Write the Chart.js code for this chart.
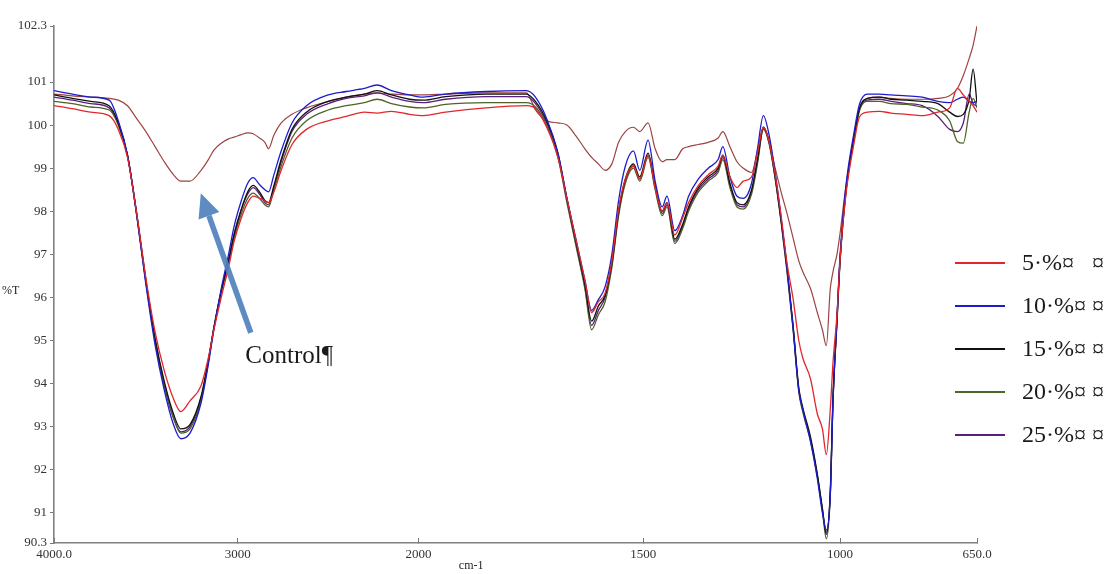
<!DOCTYPE html>
<html>
<head>
<meta charset="utf-8">
<title>FTIR %T spectra</title>
<script src="https://cdn.jsdelivr.net/npm/chart.js@4.4.1/dist/chart.umd.min.js"></script>
<style>
  html, body { margin: 0; padding: 0; background: #fff; }
  #chart { display: block; }
</style>
</head>
<body>
<canvas id="chart" width="1120" height="574"></canvas>
<script>
// wavenumbers (cm-1), same grid for every spectrum
const WAVENUMBERS = [
  4000, 3900, 3800, 3700, 3650, 3600, 3550, 3500, 3450, 3400,
  3350, 3310, 3260, 3200, 3160, 3130, 3090, 3050, 3020, 2980,
  2945, 2915, 2880, 2850, 2830, 2800, 2760, 2700, 2620, 2500,
  2400, 2300, 2230, 2150, 2050, 1990, 1940, 1850, 1760, 1740,
  1715, 1690, 1670, 1650, 1630, 1615, 1600, 1585, 1570, 1555,
  1540, 1522, 1508, 1488, 1470, 1452, 1440, 1420, 1400, 1385,
  1360, 1335, 1310, 1298, 1280, 1262, 1246, 1225, 1210, 1195,
  1180, 1165, 1150, 1135, 1120, 1105, 1095, 1075, 1058, 1045,
  1035, 1025, 1018, 1008, 1000, 985, 965, 950, 930, 900,
  870, 830, 790, 750, 720, 700, 685, 670, 660, 650
];

const T_5 = [
  100.45, 100.38, 100.30, 100.22, 99.90, 99.25, 97.95, 96.45, 95.20, 94.30,
  93.65, 93.35, 93.60, 93.95, 94.60, 95.25, 96.00, 96.70, 97.30, 97.85,
  98.20, 98.35, 98.30, 98.25, 98.20, 98.45, 98.95, 99.55, 99.90, 100.10,
  100.20, 100.30, 100.28, 100.32, 100.25, 100.22, 100.30, 100.40, 100.45, 100.38,
  99.95, 99.25, 98.30, 97.35, 96.40, 95.65, 95.90, 96.10, 96.85, 98.05,
  98.75, 99.05, 98.75, 99.30, 98.55, 98.00, 98.20, 97.45, 97.85, 98.20,
  98.60, 98.85, 99.05, 99.30, 98.80, 98.55, 98.70, 98.80, 99.35, 99.95,
  99.60, 98.85, 97.90, 96.80, 96.00, 95.00, 94.60, 94.10, 93.30, 92.95,
  92.35, 93.40, 94.50, 95.60, 96.90, 98.40, 99.55, 100.20, 100.30, 100.32,
  100.28, 100.25, 100.22, 100.30, 100.40, 100.85, 100.70, 100.55, 100.45, 100.30
];

const T_10 = [
  100.80, 100.72, 100.65, 100.58, 100.10, 99.30, 97.90, 96.30, 94.90, 93.85,
  93.05, 92.72, 92.85, 93.55, 94.45, 95.25, 96.20, 97.00, 97.65, 98.25,
  98.65, 98.78, 98.62, 98.50, 98.45, 98.85, 99.40, 100.05, 100.45, 100.70,
  100.78, 100.85, 100.93, 100.80, 100.70, 100.65, 100.72, 100.78, 100.80, 100.65,
  100.15, 99.35, 98.30, 97.35, 96.40, 95.70, 95.95, 96.25, 97.00, 98.25,
  99.05, 99.40, 98.95, 99.65, 98.70, 98.10, 98.35, 97.55, 97.90, 98.35,
  98.75, 99.00, 99.20, 99.50, 98.80, 98.35, 98.30, 98.65, 99.45, 100.22,
  99.75, 98.90, 97.85, 96.70, 95.35, 93.85, 93.40, 92.65, 91.80, 91.00,
  90.60, 91.40, 93.60, 95.50, 97.00, 98.60, 99.80, 100.50, 100.72, 100.72,
  100.70, 100.68, 100.65, 100.55, 100.52, 100.60, 100.65, 100.55, 100.52, 100.55
];

const T_15 = [
  100.70, 100.62, 100.55, 100.45, 100.05, 99.30, 97.95, 96.40, 95.05, 94.05,
  93.30, 92.95, 93.05, 93.70, 94.55, 95.30, 96.15, 96.85, 97.45, 98.05,
  98.45, 98.60, 98.45, 98.25, 98.20, 98.60, 99.20, 99.90, 100.30, 100.55,
  100.65, 100.72, 100.80, 100.70, 100.60, 100.58, 100.66, 100.72, 100.72, 100.55,
  100.10, 99.35, 98.30, 97.30, 96.30, 95.45, 95.80, 96.05, 96.80, 98.00,
  98.75, 99.10, 98.80, 99.35, 98.60, 98.00, 98.20, 97.35, 97.70, 98.10,
  98.55, 98.80, 99.00, 99.30, 98.65, 98.20, 98.15, 98.50, 99.20, 99.95,
  99.60, 98.80, 97.80, 96.70, 95.40, 93.90, 93.45, 92.75, 91.90, 91.10,
  90.50, 91.50, 93.70, 95.50, 96.90, 98.50, 99.70, 100.40, 100.62, 100.65,
  100.60, 100.58, 100.55, 100.50, 100.30, 100.20, 100.25, 100.60, 101.30, 100.50
];

const T_20 = [
  100.55, 100.50, 100.42, 100.35, 100.00, 99.28, 97.92, 96.38, 95.02, 94.00,
  93.22, 92.85, 92.95, 93.62, 94.50, 95.28, 96.10, 96.80, 97.38, 97.95,
  98.30, 98.42, 98.30, 98.15, 98.10, 98.50, 99.05, 99.70, 100.10, 100.35,
  100.45, 100.52, 100.60, 100.50, 100.42, 100.40, 100.48, 100.52, 100.52, 100.42,
  100.00, 99.25, 98.20, 97.20, 96.20, 95.25, 95.60, 95.90, 96.70, 97.90,
  98.65, 99.00, 98.70, 99.25, 98.50, 97.90, 98.10, 97.25, 97.60, 98.00,
  98.45, 98.70, 98.90, 99.20, 98.55, 98.10, 98.05, 98.40, 99.10, 99.90,
  99.55, 98.75, 97.75, 96.60, 95.30, 93.80, 93.35, 92.65, 91.85, 91.05,
  90.40, 91.40, 93.60, 95.40, 96.85, 98.45, 99.65, 100.35, 100.55, 100.55,
  100.50, 100.48, 100.42, 100.35, 100.10, 99.62, 99.58, 100.30, 100.62, 100.40
];

const T_25 = [
  100.65, 100.58, 100.50, 100.40, 100.02, 99.30, 97.93, 96.35, 95.00, 93.95,
  93.20, 92.88, 93.00, 93.65, 94.52, 95.30, 96.15, 96.88, 97.48, 98.05,
  98.40, 98.55, 98.40, 98.20, 98.15, 98.55, 99.15, 99.85, 100.25, 100.50,
  100.62, 100.68, 100.75, 100.65, 100.55, 100.52, 100.60, 100.66, 100.66, 100.50,
  100.05, 99.30, 98.25, 97.25, 96.25, 95.35, 95.70, 96.00, 96.75, 97.95,
  98.70, 99.05, 98.75, 99.30, 98.55, 97.95, 98.15, 97.30, 97.65, 98.05,
  98.50, 98.75, 98.95, 99.25, 98.60, 98.15, 98.10, 98.45, 99.15, 99.92,
  99.58, 98.78, 97.78, 96.65, 95.35, 93.85, 93.40, 92.70, 91.88, 91.08,
  90.55, 91.45, 93.65, 95.45, 96.88, 98.48, 99.68, 100.38, 100.58, 100.60,
  100.55, 100.50, 100.45, 100.20, 99.90, 99.85, 100.05, 100.72, 100.50, 100.45
];

const T_CONTROL = [
  100.72, 100.68, 100.65, 100.62, 100.58, 100.45, 100.15, 99.85, 99.50, 99.15,
  98.85, 98.70, 98.70, 98.95, 99.20, 99.42, 99.58, 99.68, 99.72, 99.78,
  99.82, 99.80, 99.70, 99.60, 99.45, 99.77, 100.05, 100.25, 100.40, 100.55,
  100.65, 100.72, 100.75, 100.72, 100.70, 100.70, 100.72, 100.75, 100.75, 100.35,
  100.10, 100.05, 100.00, 99.75, 99.45, 99.25, 99.10, 98.95, 99.10, 99.60,
  99.85, 99.95, 99.85, 100.05, 99.45, 99.15, 99.20, 99.20, 99.45, 99.50,
  99.55, 99.60, 99.70, 99.85, 99.50, 99.15, 99.00, 98.90, 99.40, 99.95,
  99.60, 99.00, 98.45, 97.95, 97.40, 96.85, 96.60, 96.20, 95.65, 95.25,
  94.88, 96.20, 96.60, 97.00, 97.50, 98.60, 99.70, 100.40, 100.62, 100.65,
  100.62, 100.60, 100.60, 100.62, 100.68, 100.85, 101.15, 101.55, 101.85, 102.30
];

const SERIES_LABELS = ["5\u00b7%\u00a4\u00a0\u00a0\u00a0\u00a4", "10\u00b7%\u00a4\u00a0\u00a4", "15\u00b7%\u00a4\u00a0\u00a4", "20\u00b7%\u00a4\u00a0\u00a4", "25\u00b7%\u00a4\u00a0\u00a4"];
const CONTROL_LABEL = "Control\u00b6";

const X_TICKS = [4000, 3000, 2000, 1500, 1000, 650];
const Y_TICKS = [90.3, 91, 92, 93, 94, 95, 96, 97, 98, 99, 100, 101, 102.3];

// arrow from the label up to the control band, in data units (cm-1, %T)
const ARROW_TAIL = [2928, 95.18];
const ARROW_TIP = [3201, 98.42];
const CONTROL_TEXT_AT = [2958, 94.62];

// the instrument plot changes scale between ticks: fraction of the axis at each tick
const X_TICK_FRACTIONS = [0, 0.1991, 0.3950, 0.6385, 0.8517, 1];

const SERIF = "'Liberation Serif', 'Times New Roman', serif";
const COLORS = ["#e3262b", "#1c1ccc", "#111111", "#4f6228", "#5a1f7a"];
const CONTROL_COLOR = "#9b4442";

function waveToDecimal(w) {
  if (w >= X_TICKS[0]) return 0;
  for (let i = 0; i < X_TICKS.length - 1; i++) {
    const a = X_TICKS[i], b = X_TICKS[i + 1];
    if (w <= a && w >= b) {
      return X_TICK_FRACTIONS[i] + (a - w) / (a - b) * (X_TICK_FRACTIONS[i + 1] - X_TICK_FRACTIONS[i]);
    }
  }
  return 1;
}

function decimalToWave(d) {
  for (let i = 0; i < X_TICKS.length - 1; i++) {
    const f0 = X_TICK_FRACTIONS[i], f1 = X_TICK_FRACTIONS[i + 1];
    if (d >= f0 && d <= f1) {
      return X_TICKS[i] - (d - f0) / (f1 - f0) * (X_TICKS[i] - X_TICKS[i + 1]);
    }
  }
  return d < 0 ? X_TICKS[0] : X_TICKS[X_TICKS.length - 1];
}

class WaveScale extends Chart.LinearScale {
  getPixelForValue(value) {
    if (value === null || value === undefined || isNaN(value)) return NaN;
    return this.getPixelForDecimal(waveToDecimal(value));
  }
  getValueForPixel(pixel) {
    return decimalToWave(this.getDecimalForPixel(pixel));
  }
}
WaveScale.id = "wave";
WaveScale.defaults = Chart.LinearScale.defaults;
Chart.register(WaveScale);

function toPoints(values) {
  return WAVENUMBERS.map((w, i) => ({x: w, y: values[i]}));
}

const sampleSeries = [T_5, T_10, T_15, T_20, T_25];

const datasets = sampleSeries.map((vals, i) => ({
  label: SERIES_LABELS[i],
  data: toPoints(vals),
  borderColor: COLORS[i],
  backgroundColor: COLORS[i],
  borderWidth: 1.3,
  pointRadius: 0,
  cubicInterpolationMode: "monotone",
  fill: false
}));

datasets.push({
  label: CONTROL_LABEL,
  inLegend: false,
  data: toPoints(T_CONTROL),
  borderColor: CONTROL_COLOR,
  backgroundColor: CONTROL_COLOR,
  borderWidth: 1.2,
  pointRadius: 0,
  cubicInterpolationMode: "monotone",
  fill: false
});

const sideLegend = {
  id: "sideLegend",
  afterDraw(chart, args, opts) {
    const ctx = chart.ctx;
    ctx.save();
    ctx.font = opts.font;
    ctx.textBaseline = "middle";
    ctx.textAlign = "left";
    let row = 0;
    chart.data.datasets.forEach(ds => {
      if (ds.inLegend === false) return;
      const y = opts.top + row * opts.rowGap;
      ctx.strokeStyle = ds.borderColor;
      ctx.lineWidth = 2;
      ctx.beginPath();
      ctx.moveTo(opts.left, y);
      ctx.lineTo(opts.left + opts.lineLength, y);
      ctx.stroke();
      ctx.fillStyle = "#1a1a1a";
      ctx.fillText(ds.label, opts.left + opts.lineLength + opts.textGap, y + 1);
      row++;
    });
    ctx.restore();
  }
};

const controlArrow = {
  id: "controlArrow",
  afterDatasetsDraw(chart) {
    const {x, y} = chart.scales;
    const ctx = chart.ctx;
    const tx = x.getPixelForValue(ARROW_TAIL[0]), ty = y.getPixelForValue(ARROW_TAIL[1]);
    const hx = x.getPixelForValue(ARROW_TIP[0]), hy = y.getPixelForValue(ARROW_TIP[1]);
    const ang = Math.atan2(hy - ty, hx - tx);
    const headLen = 24, headHalf = 11;
    const bx = hx - headLen * Math.cos(ang), by = hy - headLen * Math.sin(ang);

    ctx.save();
    ctx.strokeStyle = "rgba(79,129,189,0.92)";
    ctx.fillStyle = "rgba(79,129,189,0.92)";
    ctx.lineWidth = 5.5;
    ctx.beginPath();
    ctx.moveTo(tx, ty);
    ctx.lineTo(bx, by);
    ctx.stroke();
    ctx.beginPath();
    ctx.moveTo(hx, hy);
    ctx.lineTo(bx + headHalf * Math.sin(ang), by - headHalf * Math.cos(ang));
    ctx.lineTo(bx - headHalf * Math.sin(ang), by + headHalf * Math.cos(ang));
    ctx.closePath();
    ctx.fill();

    ctx.fillStyle = "#1a1a1a";
    ctx.font = "25px " + SERIF;
    ctx.textBaseline = "middle";
    ctx.fillText(CONTROL_LABEL, x.getPixelForValue(CONTROL_TEXT_AT[0]), y.getPixelForValue(CONTROL_TEXT_AT[1]));
    ctx.restore();
  }
};

const axisTitles = {
  id: "axisTitles",
  afterDraw(chart) {
    const ctx = chart.ctx;
    const area = chart.chartArea;
    ctx.save();
    ctx.fillStyle = "#222";
    ctx.font = "12px " + SERIF;
    ctx.textBaseline = "middle";
    ctx.textAlign = "center";
    ctx.fillText("cm-1", area.left + 0.452 * (area.right - area.left), 566);
    ctx.textAlign = "left";
    ctx.fillText("%T", 2, 291);
    ctx.restore();
  }
};

new Chart(document.getElementById("chart"), {
  type: "line",
  data: {datasets},
  options: {
    responsive: false,
    animation: false,
    layout: {padding: {left: 0, right: 143, top: 26, bottom: 0}},
    plugins: {
      legend: {display: false},
      tooltip: {enabled: false},
      sideLegend: {left: 955, top: 263, rowGap: 43, lineLength: 50, textGap: 17, font: "24px " + SERIF}
    },
    scales: {
      x: {
        type: "wave",
        min: 650,
        max: 4000,
        afterBuildTicks: s => { s.ticks = X_TICKS.map(v => ({value: v})); },
        afterFit: s => { s.height = 31; },
        grid: {drawOnChartArea: false, tickLength: -5, color: "#777", lineWidth: 1},
        border: {display: true, color: "#808080", width: 1.6},
        ticks: {
          autoSkip: false,
          maxRotation: 0,
          padding: 9,
          color: "#333",
          font: {family: SERIF, size: 13},
          callback: v => (v === 4000 || v === 650) ? v.toFixed(1) : String(v)
        }
      },
      y: {
        min: 90.3,
        max: 102.3,
        afterBuildTicks: s => { s.ticks = Y_TICKS.map(v => ({value: v})); },
        afterFit: s => { s.width = 54; },
        grid: {drawOnChartArea: false, tickLength: 4, color: "#777", lineWidth: 1},
        border: {display: true, color: "#808080", width: 1.6},
        ticks: {
          padding: 3,
          color: "#333",
          font: {family: SERIF, size: 13},
          callback: v => (Math.abs(v - Math.round(v)) < 1e-6) ? String(Math.round(v)) : v.toFixed(1)
        }
      }
    }
  },
  plugins: [sideLegend, controlArrow, axisTitles]
});
</script>
</body>
</html>
